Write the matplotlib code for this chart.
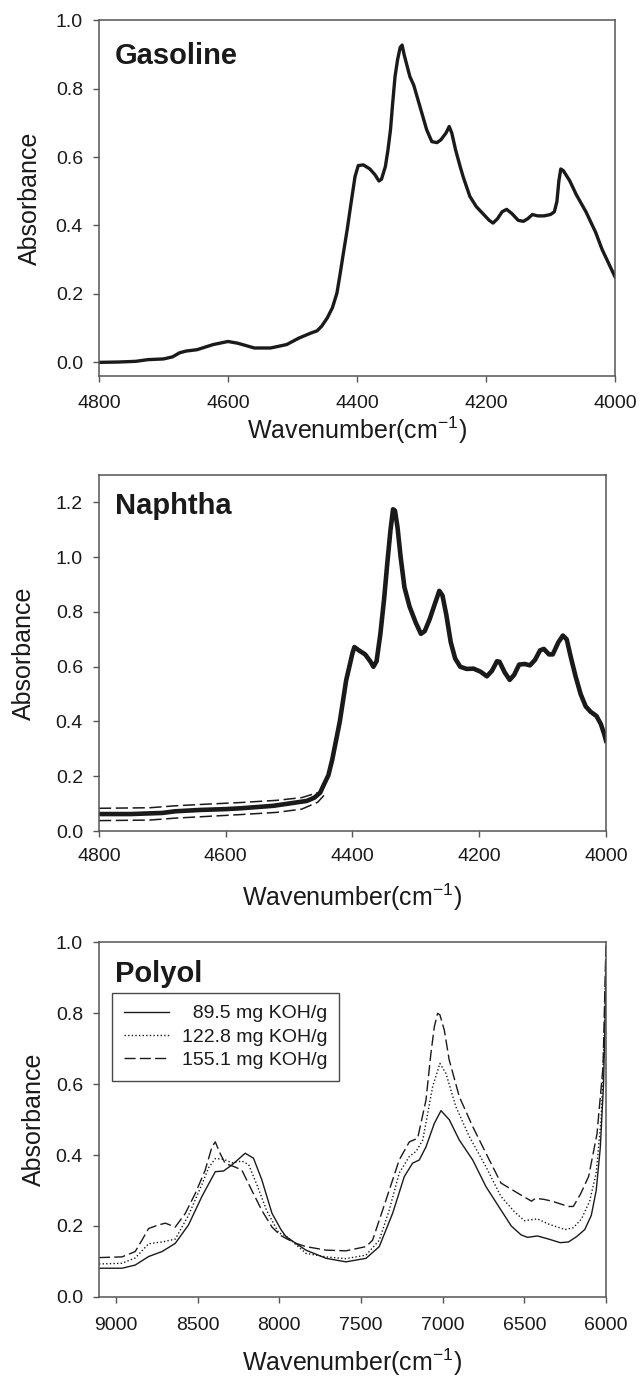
import matplotlib
matplotlib.use("Agg")
import matplotlib.pyplot as plt
from matplotlib.ticker import FormatStrFormatter

plt.rcParams["font.family"] = ["Liberation Sans", "DejaVu Sans"]
plt.rcParams["mathtext.fontset"] = "custom"
plt.rcParams["mathtext.rm"] = "Liberation Sans"
plt.rcParams["mathtext.it"] = "Liberation Sans"

# ---------------------------------------------------------------------------
# Data
# ---------------------------------------------------------------------------

# Gasoline spectra (overlapping bundle drawn as one thick trace)
gas_wn = [4800, 4770, 4743, 4724, 4700, 4686, 4675, 4665, 4648, 4623, 4600,
          4585, 4559, 4534, 4509, 4490, 4471, 4462, 4455, 4446, 4438, 4431,
          4426, 4421, 4415, 4410, 4403, 4398, 4390, 4380, 4372, 4366, 4362,
          4356, 4352, 4348, 4345, 4341, 4337, 4333, 4330, 4327, 4318, 4312,
          4302, 4292, 4284, 4276, 4270, 4262, 4257, 4253, 4247, 4240, 4235,
          4225, 4215, 4205, 4195, 4189, 4182, 4175, 4168, 4160, 4150, 4142,
          4135, 4128, 4120, 4110, 4100, 4094, 4090, 4087, 4084, 4080, 4070,
          4060, 4045, 4030, 4020, 4010, 4000]
gas_abs = [0.000, 0.001, 0.003, 0.008, 0.010, 0.016, 0.028, 0.033, 0.037, 0.052, 0.061,
           0.056, 0.042, 0.042, 0.052, 0.071, 0.086, 0.092, 0.105, 0.130, 0.160, 0.203,
           0.260, 0.320, 0.390, 0.455, 0.543, 0.575, 0.577, 0.565, 0.548, 0.530, 0.535,
           0.572, 0.620, 0.680, 0.750, 0.835, 0.885, 0.920, 0.927, 0.900, 0.835, 0.810,
           0.745, 0.680, 0.645, 0.642, 0.650, 0.670, 0.689, 0.670, 0.620, 0.572, 0.540,
           0.485, 0.455, 0.435, 0.415, 0.407, 0.420, 0.440, 0.447, 0.435, 0.415, 0.412,
           0.420, 0.432, 0.428, 0.428, 0.432, 0.440, 0.470, 0.530, 0.565, 0.560, 0.530,
           0.490, 0.440, 0.380, 0.330, 0.290, 0.250]

# Naphtha spectra (main bundle + outlying baselines)
nap_wn = [4800, 4750, 4700, 4680, 4640, 4600, 4577, 4525, 4472, 4460, 4451,
          4445, 4438, 4432, 4420, 4410, 4400, 4397, 4390, 4380, 4372, 4367,
          4362, 4356, 4350, 4345, 4340, 4336, 4333, 4329, 4324, 4318, 4310,
          4300, 4292, 4286, 4278, 4270, 4263, 4258, 4252, 4245, 4238, 4230,
          4220, 4209, 4198, 4188, 4180, 4172, 4168, 4160, 4152, 4145, 4137,
          4128, 4120, 4112, 4104, 4098, 4090, 4084, 4075, 4068, 4062, 4055,
          4048, 4040, 4032, 4024, 4015, 4008, 4003, 4000]
nap_abs = [0.062, 0.062, 0.066, 0.072, 0.077, 0.080, 0.083, 0.092, 0.110, 0.122, 0.140,
           0.170, 0.204, 0.260, 0.400, 0.550, 0.650, 0.672, 0.660, 0.645, 0.620, 0.600,
           0.620, 0.720, 0.850, 0.980, 1.100, 1.175, 1.170, 1.110, 1.000, 0.890, 0.820,
           0.760, 0.720, 0.730, 0.775, 0.830, 0.877, 0.860, 0.790, 0.690, 0.630, 0.600,
           0.592, 0.593, 0.582, 0.565, 0.585, 0.620, 0.618, 0.580, 0.552, 0.570, 0.608,
           0.610, 0.605, 0.625, 0.660, 0.665, 0.645, 0.645, 0.690, 0.714, 0.700, 0.630,
           0.565, 0.500, 0.455, 0.435, 0.420, 0.390, 0.355, 0.330]
nap_hi_wn = [4800, 4720, 4680, 4640, 4577, 4520, 4480, 4455]
nap_hi_abs = [0.083, 0.085, 0.092, 0.097, 0.104, 0.112, 0.122, 0.140]
nap_lo_wn = [4800, 4720, 4680, 4640, 4577, 4520, 4480, 4455, 4445]
nap_lo_abs = [0.038, 0.040, 0.047, 0.052, 0.060, 0.068, 0.080, 0.105, 0.130]

# Polyol spectra, three hydroxyl numbers
pol_labels = ["  89.5 mg KOH/g", "122.8 mg KOH/g", "155.1 mg KOH/g"]

pol1_wn = [9104, 8963, 8882, 8800, 8718, 8637, 8556, 8474, 8392, 8341, 8290,
           8209, 8158, 8107, 8045, 7990, 7959, 7837, 7714, 7592, 7469, 7388,
           7306, 7235, 7184, 7143, 7102, 7051, 7010, 6959, 6898, 6816, 6735,
           6643, 6580, 6520, 6480, 6420, 6350, 6280, 6230, 6180, 6130, 6090,
           6060, 6035, 6015, 6005, 6000]
pol1_abs = [0.081, 0.081, 0.090, 0.114, 0.128, 0.151, 0.203, 0.283, 0.353, 0.355, 0.372,
            0.405, 0.391, 0.330, 0.236, 0.190, 0.170, 0.132, 0.109, 0.099, 0.109, 0.142,
            0.236, 0.339, 0.377, 0.386, 0.423, 0.489, 0.525, 0.499, 0.442, 0.386, 0.311,
            0.245, 0.200, 0.175, 0.168, 0.172, 0.163, 0.153, 0.155, 0.170, 0.190, 0.230,
            0.300, 0.420, 0.600, 0.800, 0.950]

pol2_wn = [9104, 8963, 8882, 8800, 8718, 8637, 8556, 8474, 8433, 8392, 8341,
           8290, 8229, 8188, 8138, 8076, 8004, 7959, 7837, 7714, 7592, 7469,
           7388, 7327, 7266, 7204, 7163, 7122, 7061, 7017, 6980, 6919, 6837,
           6735, 6643, 6560, 6500, 6420, 6350, 6250, 6200, 6150, 6100, 6060,
           6030, 6010, 6000]
pol2_abs = [0.093, 0.095, 0.110, 0.150, 0.155, 0.163, 0.230, 0.317, 0.364, 0.390, 0.388,
            0.378, 0.383, 0.373, 0.317, 0.242, 0.181, 0.172, 0.123, 0.113, 0.108, 0.118,
            0.160, 0.245, 0.349, 0.396, 0.410, 0.442, 0.593, 0.658, 0.630, 0.536, 0.452,
            0.367, 0.283, 0.240, 0.215, 0.220, 0.205, 0.190, 0.195, 0.220, 0.270, 0.350,
            0.500, 0.750, 0.980]

pol3_wn = [9104, 8963, 8882, 8841, 8800, 8739, 8698, 8637, 8576, 8515, 8454,
           8412, 8392, 8362, 8331, 8270, 8229, 8168, 8107, 8045, 7994, 7959,
           7898, 7837, 7714, 7592, 7469, 7429, 7347, 7266, 7204, 7153, 7102,
           7072, 7051, 7031, 7017, 6990, 6960, 6898, 6816, 6735, 6643, 6531,
           6456, 6431, 6380, 6331, 6231, 6200, 6156, 6106, 6055, 6018, 6000]
pol3_abs = [0.111, 0.113, 0.128, 0.160, 0.193, 0.203, 0.208, 0.197, 0.235, 0.291, 0.357,
            0.423, 0.437, 0.404, 0.376, 0.366, 0.357, 0.300, 0.244, 0.197, 0.174, 0.165,
            0.151, 0.142, 0.132, 0.130, 0.142, 0.160, 0.273, 0.386, 0.437, 0.447, 0.555,
            0.686, 0.761, 0.799, 0.795, 0.752, 0.668, 0.564, 0.480, 0.405, 0.321, 0.290,
            0.270, 0.278, 0.275, 0.270, 0.255, 0.255, 0.290, 0.340, 0.460, 0.650, 1.000]

# ---------------------------------------------------------------------------
# Figure
# ---------------------------------------------------------------------------

INK = "#1a1a1a"
SPINE = "#555555"

fig = plt.figure(figsize=(6.41, 13.77), dpi=100)
ax1 = fig.add_axes([0.1544, 0.7269, 0.805, 0.2585])
ax2 = fig.add_axes([0.1544, 0.3965, 0.791, 0.2585])
ax3 = fig.add_axes([0.1544, 0.0581, 0.791, 0.2578])


def style_axes(ax, xpad, xlab_y, ylab_x):
    for side in ["top", "right", "bottom", "left"]:
        ax.spines[side].set_color(SPINE)
        ax.spines[side].set_linewidth(1.1)
    ax.tick_params(direction="out", length=4.5, width=1.0, color=SPINE,
                   labelsize=14, top=False, right=False, colors=INK)
    ax.tick_params(axis="x", pad=xpad)
    ax.tick_params(axis="y", pad=7)
    ax.yaxis.set_major_formatter(FormatStrFormatter("%.1f"))
    ax.set_xlabel("Wavenumber(cm$^{-1}$)", fontsize=18, color=INK)
    ax.set_ylabel("Absorbance", fontsize=18, color=INK)
    ax.xaxis.set_label_coords(0.5, xlab_y)
    ax.yaxis.set_label_coords(ylab_x, 0.5)


# Gasoline
ax1.plot(gas_wn, gas_abs, color=INK, lw=2.4, solid_joinstyle="round")
ax1.set_xlim(4800, 4000)
ax1.set_ylim(-0.04, 1.0)
ax1.set_xticks([4800, 4600, 4400, 4200, 4000])
ax1.set_yticks([0.0, 0.2, 0.4, 0.6, 0.8, 1.0])
style_axes(ax1, 9, -0.108, -0.11)
ax1.text(0.03, 0.878, "Gasoline", transform=ax1.transAxes, fontsize=21,
         fontweight="bold", color=INK, ha="left", va="baseline")

# Naphtha
ax2.plot(nap_hi_wn, nap_hi_abs, color=INK, lw=1.1, dashes=(8, 3))
ax2.plot(nap_lo_wn, nap_lo_abs, color=INK, lw=1.1, dashes=(8, 3))
ax2.plot(nap_wn, nap_abs, color=INK, lw=3.3, solid_joinstyle="round")
ax2.set_xlim(4800, 4000)
ax2.set_ylim(0.0, 1.3)
ax2.set_xticks([4800, 4600, 4400, 4200, 4000])
ax2.set_yticks([0.0, 0.2, 0.4, 0.6, 0.8, 1.0, 1.2])
style_axes(ax2, 8, -0.142, -0.125)
ax2.text(0.031, 0.892, "Naphtha", transform=ax2.transAxes, fontsize=21,
         fontweight="bold", color=INK, ha="left", va="baseline")

# Polyol
ax3.plot(pol1_wn, pol1_abs, color=INK, lw=1.0, label=pol_labels[0])
ax3.plot(pol2_wn, pol2_abs, color=INK, lw=1.0, dashes=(1, 1.6), label=pol_labels[1])
ax3.plot(pol3_wn, pol3_abs, color=INK, lw=1.0, dashes=(8, 3), label=pol_labels[2])
ax3.set_xlim(9104, 6000)
ax3.set_ylim(0.0, 1.0)
ax3.set_xticks([9000, 8500, 8000, 7500, 7000, 6500, 6000])
ax3.set_yticks([0.0, 0.2, 0.4, 0.6, 0.8, 1.0])
style_axes(ax3, 10, -0.14, -0.105)
ax3.text(0.031, 0.888, "Polyol", transform=ax3.transAxes, fontsize=21,
         fontweight="bold", color=INK, ha="left", va="baseline")
leg = ax3.legend(loc="upper left", bbox_to_anchor=(0.026, 0.856), borderaxespad=0,
                 fontsize=14, frameon=True, fancybox=False, handlelength=2.3,
                 handletextpad=0.7, labelspacing=0.3, borderpad=0.6)
leg.get_frame().set_edgecolor(INK)
leg.get_frame().set_linewidth(1.0)
for t in leg.get_texts():
    t.set_color(INK)

fig.savefig("out.png", dpi=100)
